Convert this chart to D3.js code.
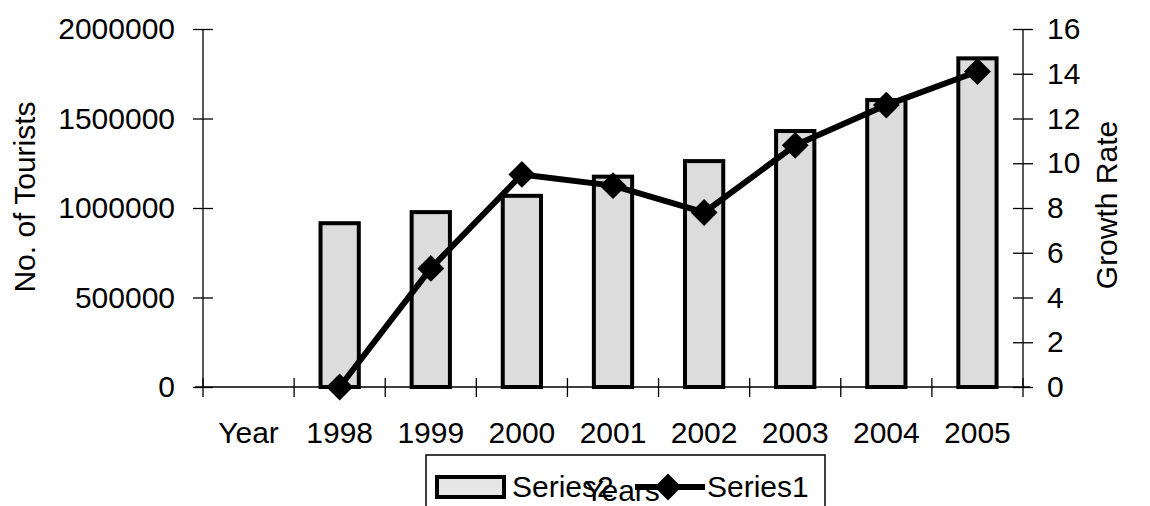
<!DOCTYPE html>
<html><head><meta charset="utf-8">
<script src="https://cdn.jsdelivr.net/npm/d3@7"></script>
<style>
html,body{margin:0;padding:0;background:#fff;}
svg{display:block;font-family:"Liberation Sans",Arial,sans-serif;}
</style></head>
<body>
<svg id="c" width="1150" height="506"></svg>
<script>
const categories = ["Year","1998","1999","2000","2001","2002","2003","2004","2005"];
const tourists = [null, 915000, 977000, 1068000, 1175000, 1262000, 1430000, 1603000, 1836000];
const growth = [null, 0, 5.3, 9.5, 9.0, 7.8, 10.8, 12.6, 14.1];
const leftTicks = [0, 500000, 1000000, 1500000, 2000000];
const rightTicks = [0, 2, 4, 6, 8, 10, 12, 14, 16];

const svg = d3.select("#c");
const FS = 30;
const x = d3.scaleBand().domain(categories).range([203, 1023]);
const yL = d3.scaleLinear().domain([0, 2000000]).range([387, 29]);
const yR = d3.scaleLinear().domain([0, 16]).range([387, 29]);
const barW = x.bandwidth() * 0.42;

// bars
svg.append("g").selectAll("rect")
  .data(categories.map((c, i) => ({c, v: tourists[i]})).filter(d => d.v != null))
  .join("rect")
  .attr("x", d => x(d.c) + x.bandwidth()/2 - barW/2)
  .attr("y", d => yL(d.v))
  .attr("width", barW)
  .attr("height", d => yL(0) - yL(d.v))
  .attr("fill", "#dcdcdc")
  .attr("stroke", "#000")
  .attr("stroke-width", 4);

// left axis
const gL = svg.append("g").attr("transform", "translate(203,0)")
  .call(d3.axisLeft(yL).tickValues(leftTicks).tickFormat(d3.format("d")).tickSize(10).tickPadding(18));
gL.selectAll(".tick line").attr("x1", -10).attr("x2", 10);
gL.select(".domain").attr("d", `M0,${yL(2000000)}V${yL(0)}`);

// right axis
const gR = svg.append("g").attr("transform", "translate(1023,0)")
  .call(d3.axisRight(yR).tickValues(rightTicks).tickFormat(d3.format("d")).tickSize(10).tickPadding(14));
gR.selectAll(".tick line").attr("x1", -10).attr("x2", 10);
gR.select(".domain").attr("d", `M0,${yR(16)}V${yR(0)}`);

[gL, gR].forEach(g => {
  g.selectAll("text").attr("font-size", FS).attr("fill", "#000").attr("font-family", "Liberation Sans, Arial, sans-serif");
  g.selectAll("line,path").attr("stroke", "#000").attr("stroke-width", 1.3);
});

// x axis
const gX = svg.append("g").attr("transform", `translate(0,${yL(0)})`)
  .call(d3.axisBottom(x).tickSize(0).tickPadding(35));
gX.select(".domain").attr("d", "M195,0H1030").attr("stroke", "#000").attr("stroke-width", 1.3);
gX.selectAll("text").attr("font-size", FS).attr("fill", "#000").attr("font-family", "Liberation Sans, Arial, sans-serif");
const bounds = categories.map(c => x(c)).concat([x.range()[1]]);
gX.selectAll(".bt").data(bounds).join("line").attr("class", "bt")
  .attr("x1", d => d).attr("x2", d => d).attr("y1", -9).attr("y2", 10)
  .attr("stroke", "#000").attr("stroke-width", 1.3);

// line series
const pts = categories.map((c, i) => ({c, v: growth[i]})).filter(d => d.v != null);
svg.append("path").datum(pts)
  .attr("d", d3.line().x(d => x(d.c) + x.bandwidth()/2).y(d => yR(d.v)))
  .attr("fill", "none").attr("stroke", "#000").attr("stroke-width", 6).attr("stroke-linejoin", "round");
const diamond = d3.symbol().type(d3.symbolDiamond2).size(460);
svg.append("g").selectAll("path").data(pts).join("path")
  .attr("transform", d => `translate(${x(d.c) + x.bandwidth()/2},${yR(d.v)})`)
  .attr("d", diamond).attr("fill", "#000");

// axis titles
svg.append("text").attr("transform", "translate(35,197) rotate(-90)")
  .attr("text-anchor", "middle").attr("font-size", FS).text("No. of Tourists");
svg.append("text").attr("transform", "translate(1117,205) rotate(-90)")
  .attr("text-anchor", "middle").attr("font-size", FS).text("Growth Rate");

// legend
const lg = svg.append("g");
lg.append("rect").attr("x", 426).attr("y", 455).attr("width", 399).attr("height", 70)
  .attr("fill", "#fff").attr("stroke", "#000").attr("stroke-width", 1.5);
lg.append("rect").attr("x", 437).attr("y", 477).attr("width", 67).attr("height", 20)
  .attr("fill", "#e6e6e6").attr("stroke", "#000").attr("stroke-width", 4);
lg.append("text").attr("x", 512).attr("y", 497).attr("font-size", FS).text("Series2");
lg.append("line").attr("x1", 635).attr("x2", 705).attr("y1", 487).attr("y2", 487)
  .attr("stroke", "#000").attr("stroke-width", 6);
lg.append("path").attr("transform", "translate(668,487)").attr("d", diamond).attr("fill", "#000");
lg.append("text").attr("x", 707).attr("y", 497).attr("font-size", FS).text("Series1");

// x axis title (overlapping legend as in reference)
svg.append("text").attr("x", 622).attr("y", 501).attr("text-anchor", "middle")
  .attr("font-size", FS).text("Years");
</script>
</body></html>
